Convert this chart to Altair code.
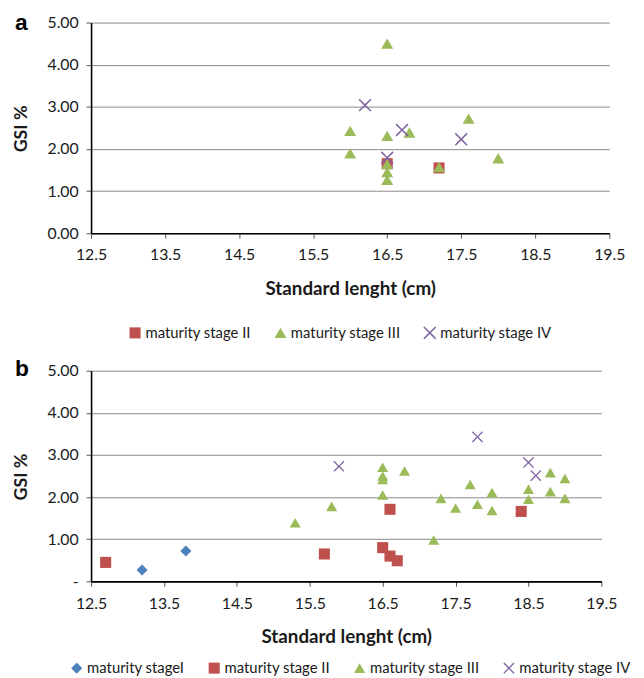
import altair as alt
import pandas as pd

# ---------------- data ----------------
# panel a
a_II_x = [16.5, 17.2]
a_II_y = [1.65, 1.55]
a_III_x = [16.5, 16.0, 16.0, 16.5, 16.8, 17.6, 18.0, 17.2, 16.5, 16.5, 16.5]
a_III_y = [4.50, 2.43, 1.90, 2.31, 2.39, 2.72, 1.78, 1.57, 1.64, 1.45, 1.27]
a_IV_x = [16.2, 16.7, 17.5, 16.5]
a_IV_y = [3.04, 2.45, 2.23, 1.79]

# panel b
b_I_x = [13.2, 13.8]
b_I_y = [0.27, 0.72]
b_II_x = [12.7, 15.7, 16.6, 16.5, 16.6, 16.7, 18.4]
b_II_y = [0.45, 0.65, 1.71, 0.80, 0.60, 0.49, 1.66]
b_III_x = [15.3, 15.8, 16.5, 16.5, 16.5, 16.5, 16.8, 17.2, 17.3, 17.5, 17.7,
           17.8, 18.0, 18.0, 18.5, 18.5, 18.8, 18.8, 19.0, 19.0]
b_III_y = [1.39, 1.78, 2.71, 2.50, 2.42, 2.05, 2.62, 0.98, 1.97, 1.74, 2.30,
           1.83, 2.11, 1.68, 2.19, 1.95, 2.58, 2.13, 2.44, 1.97]
b_IV_x = [15.9, 17.8, 18.5, 18.6]
b_IV_y = [2.73, 3.43, 2.82, 2.51]

x_ticks = [12.5, 13.5, 14.5, 15.5, 16.5, 17.5, 18.5, 19.5]
y_ticks = [0, 1, 2, 3, 4, 5]

S1 = "maturity stageI"
S2 = "maturity stage II"
S3 = "maturity stage III"
S4 = "maturity stage IV"

C1, C2, C3, C4 = "#4F81BD", "#C0504D", "#9BBB59", "#8064A2"
XPATH = ("M0,-0.17L0.83,-1L1,-0.83L0.17,0L1,0.83L0.83,1L0,0.17L-0.83,1"
         "L-1,0.83L-0.17,0L-1,-0.83L-0.83,-1Z")


def frame(parts):
    rows = []
    for name, xs, ys in parts:
        for x, y in zip(xs, ys):
            rows.append({"stage": name, "len": x, "gsi": y, "o": len(rows)})
    return pd.DataFrame(rows)


df_a = frame([(S2, a_II_x, a_II_y), (S3, a_III_x, a_III_y), (S4, a_IV_x, a_IV_y)])
df_b = frame([(S1, b_I_x, b_I_y), (S2, b_II_x, b_II_y), (S3, b_III_x, b_III_y),
              (S4, b_IV_x, b_IV_y)])

FONT = "Lato"
TXT = "#1a1a1a"


def panel(df, letter, letter_y, domain, colors, shapes, sizes, width, zero_label,
          lx, ly):
    legend = alt.Legend(title=None, orient="none", legendX=lx, legendY=ly,
                        direction="horizontal", labelFont=FONT, labelFontSize=15,
                        labelColor=TXT, symbolSize=110, symbolStrokeWidth=0,
                        labelOffset=3, columnPadding=22, symbolOpacity=1)
    xaxis = alt.Axis(values=x_ticks, format=".1f", grid=False, domainColor="black",
                     domainWidth=1.6, tickColor="#555555", tickSize=5,
                     labelPadding=9, labelFont=FONT, labelFontSize=16,
                     labelColor=TXT, title="Standard lenght (cm)",
                     titleFont=FONT, titleFontSize=19, titleFontWeight="bold",
                     titleColor=TXT, titleY=56, titleBaseline="middle",
                     labelFlush=False)
    yaxis = alt.Axis(values=y_ticks,
                     labelExpr=f"datum.value == 0 ? '{zero_label}' : format(datum.value, '.2f')",
                     grid=True, gridColor="#8a8a8a", gridWidth=1,
                     domainColor="black", domainWidth=1.6, tickColor="#555555",
                     tickSize=5, labelPadding=8, labelFont=FONT, labelFontSize=16,
                     labelColor=TXT, title="GSI %", titleFont=FONT,
                     titleFontSize=18, titleFontWeight="bold", titleColor=TXT,
                     titleX=-70, titleY=107, titleAngle=270,
                     titleBaseline="middle", titleAlign="center", labelFlush=False)
    pts = alt.Chart(df).mark_point(filled=True, opacity=1, strokeWidth=0).encode(
        x=alt.X("len:Q", scale=alt.Scale(domain=[12.5, 19.5], nice=False, zero=False),
                axis=xaxis),
        y=alt.Y("gsi:Q", scale=alt.Scale(domain=[0, 5], nice=False), axis=yaxis),
        color=alt.Color("stage:N", scale=alt.Scale(domain=domain, range=colors),
                        legend=legend),
        shape=alt.Shape("stage:N", scale=alt.Scale(domain=domain, range=shapes),
                        legend=legend),
        size=alt.Size("stage:N", scale=alt.Scale(domain=domain, range=sizes),
                      legend=None),
        order=alt.Order("o:Q"),
    )
    lab = alt.Chart(pd.DataFrame({"t": [letter]})).mark_text(
        font="Liberation Sans", fontSize=23, fontWeight="bold", color="black",
        align="left", baseline="alphabetic").encode(
        text="t:N", x=alt.value(-77), y=alt.value(letter_y))
    return alt.layer(pts, lab).properties(width=width, height=213)


pa = panel(df_a, "a", 7, [S2, S3, S4], [C2, C3, C4],
           ["square", "triangle-up", XPATH], [125, 170, 125], 524, "0.00", 37, 306)
pb = panel(df_b, "b", 5, [S1, S2, S3, S4], [C1, C2, C3, C4],
           ["diamond", "square", "triangle-up", XPATH], [125, 125, 170, 125], 516,
           "-\u00a0", -22, 293)

chart = alt.vconcat(pa, pb, spacing=17).resolve_scale(
    color="independent", shape="independent", size="independent"
).properties(
    padding={"left": 5, "top": 0, "right": 5, "bottom": 0}
).configure_view(stroke=None)

chart.save("out.html", embed_options={"renderer": "svg", "actions": False})
